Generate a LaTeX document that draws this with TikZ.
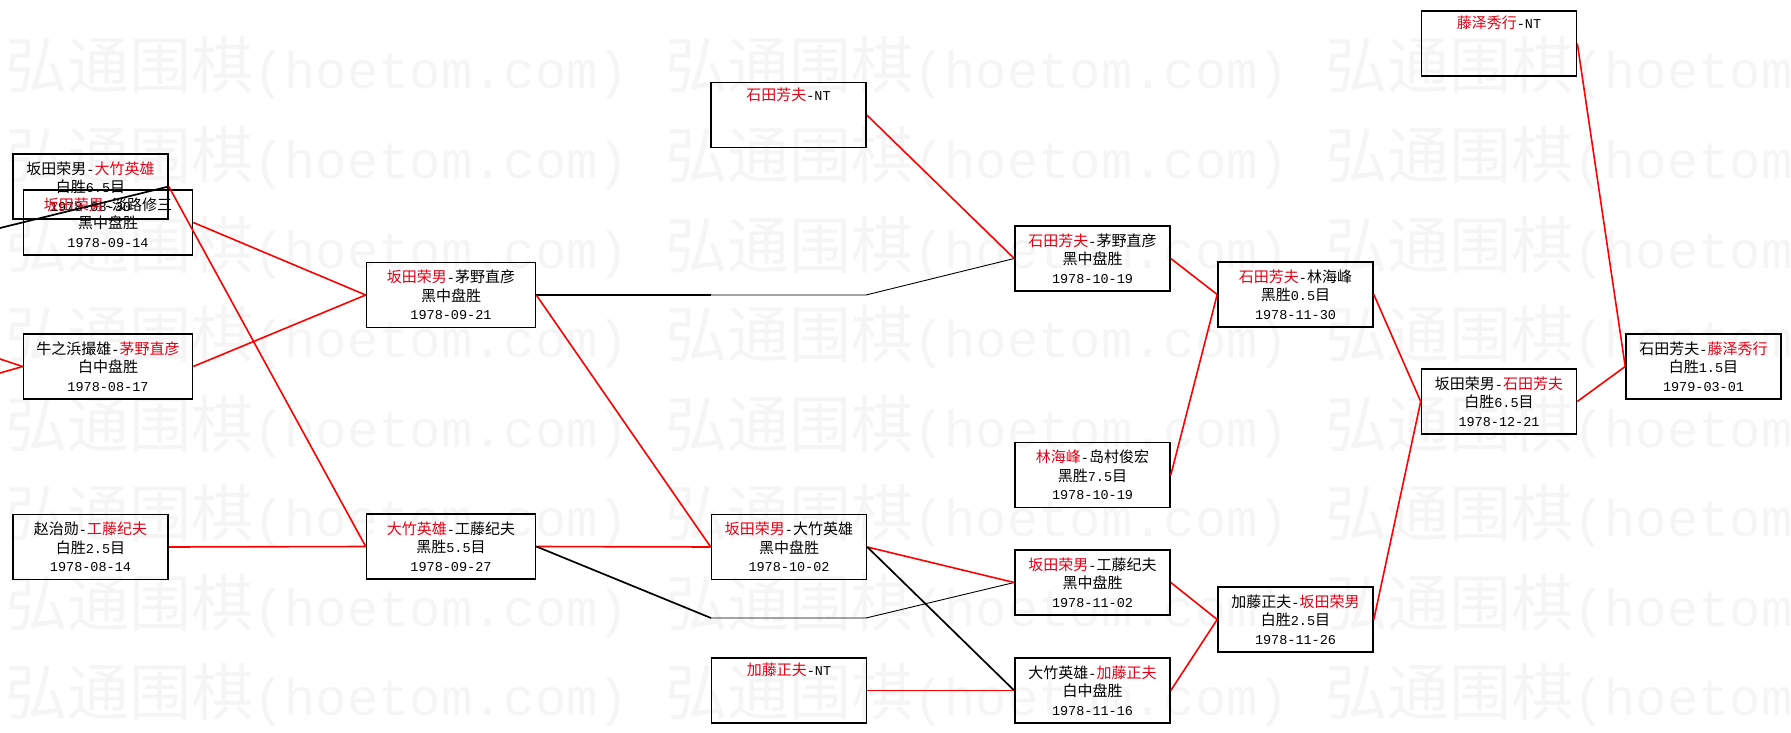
\documentclass[tikz,border=0pt]{standalone}
\usepackage{fontspec}
\setmainfont{Noto Sans CJK SC}
\newfontfamily\mono{Liberation Mono}[Scale=0.9]

\definecolor{winred}{RGB}{225,0,20}
\definecolor{linkred}{RGB}{255,0,0}
\definecolor{markgray}{RGB}{245,245,245}

% first line of a box: red name is the winner
\newcommand{\winA}[2]{\textcolor{winred}{#1}{\mono-}#2}
\newcommand{\winB}[2]{#1{\mono-}\textcolor{winred}{#2}}
\newcommand{\matchdate}[1]{{\mono #1}}

\begin{document}
\begin{tikzpicture}[x=1pt,y=-1pt]
    \tikzset{
        game/.style={draw, line width=1.6pt, minimum width=155, minimum height=65,
            inner sep=0pt, align=center, font=\fontsize{15}{18.5}\selectfont},
        wide/.style={minimum width=169},
        win/.style={draw=linkred, line width=1.6pt},
        lose/.style={draw=black, line width=1.7pt},
        lost/.style={draw=black, line width=0.9pt},
        watermark/.style={text=markgray, inner sep=0pt, anchor=base west,
            font=\fontsize{62}{62}\selectfont}
    }
    \useasboundingbox (0,0) rectangle (1791,733);
    % watermark
    \foreach \r in {0,...,7} {
        \foreach \c in {0,1,2} {
            \node[watermark] (wm-\r-\c) at ({5+660*\c},{89+89.5*\r})
                {弘通围棋{\mono\fontsize{58}{58}\selectfont(hoetom.com)}};
        }
    }
    % games
    \node[game] (sak-otk) at (90.5,186.5) {\winB{坂田荣男}{大竹英雄}\\白胜{\mono 6.5}目\\\matchdate{1978-08-30}};
    \node[game,wide] (sak-awj) at (108,222.5) {\winA{坂田荣男}{淡路修三}\\黑中盘胜\\\matchdate{1978-09-14}};
    \node[game,wide] (ush-kay) at (108,366.5) {\winB{牛之浜撮雄}{茅野直彦}\\白中盘胜\\\matchdate{1978-08-17}};
    \node[game] (cho-kud) at (90.5,547) {\winB{赵治勋}{工藤纪夫}\\白胜{\mono 2.5}目\\\matchdate{1978-08-14}};
    \node[game,wide] (sak-kay) at (451,295) {\winA{坂田荣男}{茅野直彦}\\黑中盘胜\\\matchdate{1978-09-21}};
    \node[game,wide] (otk-kud) at (451,546.5) {\winA{大竹英雄}{工藤纪夫}\\黑胜{\mono 5.5}目\\\matchdate{1978-09-27}};
    \node[game] (ish-nt) at (788.5,115) {\winA{石田芳夫}{\mono NT}\\\strut\\\strut};
    \node[game] (sak-otk2) at (789,547) {\winA{坂田荣男}{大竹英雄}\\黑中盘胜\\\matchdate{1978-10-02}};
    \node[game] (kat-nt) at (789,690.5) {\winA{加藤正夫}{\mono NT}\\\strut\\\strut};
    \node[game] (ish-kay) at (1092.5,258.5) {\winA{石田芳夫}{茅野直彦}\\黑中盘胜\\\matchdate{1978-10-19}};
    \node[game] (rin-shm) at (1092.5,475) {\winA{林海峰}{岛村俊宏}\\黑胜{\mono 7.5}目\\\matchdate{1978-10-19}};
    \node[game] (sak-kud) at (1092.5,582.5) {\winA{坂田荣男}{工藤纪夫}\\黑中盘胜\\\matchdate{1978-11-02}};
    \node[game] (otk-kat) at (1092.5,690.5) {\winB{大竹英雄}{加藤正夫}\\白中盘胜\\\matchdate{1978-11-16}};
    \node[game] (ish-rin) at (1295.5,294.5) {\winA{石田芳夫}{林海峰}\\黑胜{\mono 0.5}目\\\matchdate{1978-11-30}};
    \node[game] (kat-sak) at (1295.5,619.5) {\winB{加藤正夫}{坂田荣男}\\白胜{\mono 2.5}目\\\matchdate{1978-11-26}};
    \node[game] (fuj-nt) at (1499,43.5) {\winA{藤泽秀行}{\mono NT}\\\strut\\\strut};
    \node[game] (sak-ish) at (1499,401.5) {\winB{坂田荣男}{石田芳夫}\\白胜{\mono 6.5}目\\\matchdate{1978-12-21}};
    \node[game] (ish-fuj) at (1703.5,366.5) {\winB{石田芳夫}{藤泽秀行}\\白胜{\mono 1.5}目\\\matchdate{1979-03-01}};
    % loose ends at the left border and bends
    \coordinate (in-otk) at (0,228);
    \coordinate (in-kay1) at (0,359);
    \coordinate (in-kay2) at (0,373);
    \coordinate (via-e1) at (711,295);
    \coordinate (via-e2) at (866,295);
    \coordinate (via-f1) at (711,618);
    \coordinate (via-f2) at (866,618);
    % connectors
    \draw[lose] (in-otk) -- (sak-otk.east);
    \draw[win] (in-kay1) -- (ush-kay.west);
    \draw[win] (in-kay2) -- (ush-kay.west);
    \draw[win] (sak-otk.east) -- (otk-kud.west);
    \draw[win] (sak-awj.east) -- (sak-kay.west);
    \draw[win] (ush-kay.east) -- (sak-kay.west);
    \draw[win] (cho-kud.east) -- (otk-kud.west);
    \draw[lose] (sak-kay.east) -- (via-e1);
    \draw[lost] (via-e1) -- (via-e2) -- (ish-kay.west);
    \draw[win] (sak-kay.east) -- (sak-otk2.west);
    \draw[win] (otk-kud.east) -- (sak-otk2.west);
    \draw[lose] (otk-kud.east) -- (via-f1);
    \draw[lost] (via-f1) -- (via-f2) -- (sak-kud.west);
    \draw[win] (sak-otk2.east) -- (sak-kud.west);
    \draw[lose] (sak-otk2.east) -- (otk-kat.west);
    \draw[win] (kat-nt.east) -- (otk-kat.west);
    \draw[win] (ish-nt.east) -- (ish-kay.west);
    \draw[win] (ish-kay.east) -- (ish-rin.west);
    \draw[win] (rin-shm.east) -- (ish-rin.west);
    \draw[win] (sak-kud.east) -- (kat-sak.west);
    \draw[win] (otk-kat.east) -- (kat-sak.west);
    \draw[win] (ish-rin.east) -- (sak-ish.west);
    \draw[win] (kat-sak.east) -- (sak-ish.west);
    \draw[win] (fuj-nt.east) -- (ish-fuj.west);
    \draw[win] (sak-ish.east) -- (ish-fuj.west);
\end{tikzpicture}
\end{document}
